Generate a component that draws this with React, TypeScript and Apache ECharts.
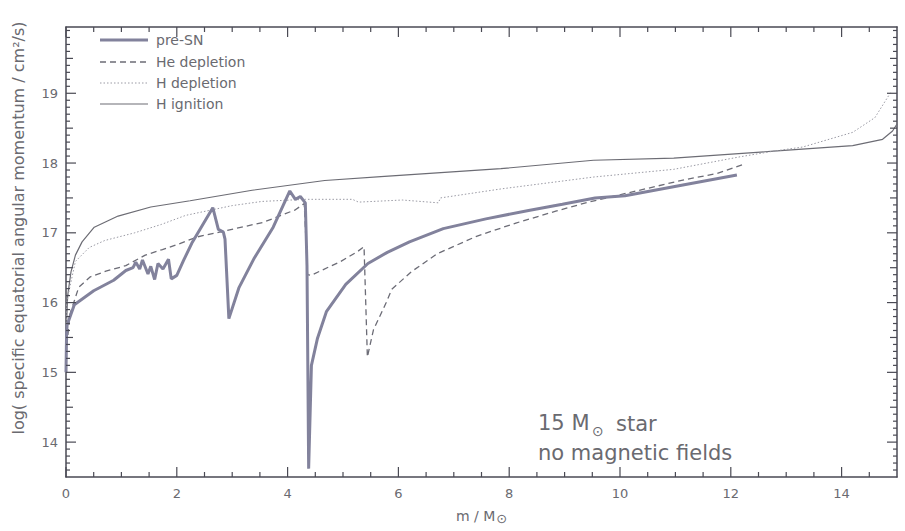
import React, { useEffect, useRef } from "react";
import * as echarts from "echarts";

// ---- data ----
const preSnMass = [0, 0.01, 0.02, 0.15, 0.5, 0.86, 1.08, 1.21, 1.26, 1.33, 1.38, 1.48, 1.53, 1.6, 1.66, 1.75, 1.85, 1.9, 2.0, 2.12, 2.27, 2.65, 2.75, 2.84, 2.87, 2.94, 3.12, 3.4, 3.74, 4.04, 4.14, 4.23, 4.32, 4.35, 4.37, 4.38, 4.43, 4.54, 4.7, 5.05, 5.45, 5.8, 6.2, 6.81, 7.58, 8.35, 8.96, 9.55, 10.09, 11.16, 12.11];
const preSnLogJ = [15.0, 15.54, 15.68, 15.97, 16.17, 16.32, 16.46, 16.5, 16.58, 16.48, 16.61, 16.41, 16.52, 16.33, 16.56, 16.48, 16.62, 16.34, 16.39, 16.6, 16.85, 17.36, 17.05, 17.01, 16.91, 15.77, 16.21, 16.64, 17.08, 17.6, 17.48, 17.52, 17.43, 16.53, 14.6, 13.62, 15.1, 15.49, 15.87, 16.26, 16.56, 16.72, 16.87, 17.06, 17.2, 17.32, 17.41, 17.5, 17.53, 17.69, 17.83];

const heDepMass = [0, 0.07, 0.23, 0.44, 0.72, 1.08, 1.43, 1.74, 2.04, 2.36, 2.77, 3.56, 4.14, 4.3, 4.36, 4.42, 4.96, 5.26, 5.38, 5.44, 5.55, 5.78, 5.88, 6.23, 6.7, 7.41, 8.12, 8.84, 9.43, 11.16, 11.75, 12.23];
const heDepLogJ = [15.25, 15.83, 16.22, 16.37, 16.45, 16.53, 16.68, 16.76, 16.84, 16.94, 17.01, 17.15, 17.33, 17.42, 16.4, 16.39, 16.59, 16.73, 16.8, 15.22, 15.61, 16.0, 16.19, 16.44, 16.7, 16.95, 17.14, 17.31, 17.44, 17.76, 17.85, 17.98];

const hDepMass = [0, 0.01, 0.05, 0.17, 0.42, 0.7, 1.24, 1.72, 2.16, 3.0, 3.54, 4.32, 5.17, 5.28, 6.07, 6.72, 6.76, 7.86, 9.53, 10.97, 12.17, 12.77, 13.3, 14.2, 14.6, 14.75, 14.9];
const hDepLogJ = [15.2, 15.97, 16.15, 16.59, 16.79, 16.89, 17.0, 17.12, 17.25, 17.39, 17.45, 17.48, 17.48, 17.44, 17.47, 17.43, 17.5, 17.63, 17.8, 17.91, 18.09, 18.17, 18.23, 18.44, 18.65, 18.84, 19.03];

const hIgnMass = [0, 0.01, 0.03, 0.09, 0.17, 0.29, 0.51, 0.94, 1.53, 2.24, 3.36, 4.67, 5.75, 7.85, 9.52, 10.97, 12.77, 14.2, 14.74, 14.92, 15.0];
const hIgnLogJ = [15.2, 15.7, 16.1, 16.44, 16.68, 16.87, 17.08, 17.24, 17.37, 17.46, 17.61, 17.75, 17.81, 17.92, 18.04, 18.07, 18.17, 18.25, 18.34, 18.46, 18.56];

const seriesNames = ["pre-SN", "He depletion", "H depletion", "H ignition"];
const xLabelValues = [0, 2, 4, 6, 8, 10, 12, 14];
const yLabelValues = [14, 15, 16, 17, 18, 19];

const zip = (a: number[], b: number[]) => a.map((v, i) => [v, b[i]]);

const FONT = "DejaVu Sans";
const AXIS = "#4a4a54";
const TXT = "#6a6a70";

const STYLES = [
  { color: "#82829c", width: 3, dash: null as number[] | null },
  { color: "#6c6c76", width: 1.3, dash: [6, 4] },
  { color: "#9a9aa4", width: 1, dash: [1.5, 2] },
  { color: "#6c6c74", width: 1.2, dash: null as number[] | null },
];

export default function App() {
  const ref = useRef<HTMLDivElement>(null);
  useEffect(() => {
    if (!ref.current) return;
    document.body.style.margin = "0";
    const chart = echarts.init(ref.current, undefined, { renderer: "svg" });
    const X_MIN = 0, X_MAX = 15, Y_MIN = 13.5, Y_MAX = 19.95;

    const xAxisOf = (pos: string, labels: boolean) => ({
      type: "value", min: X_MIN, max: X_MAX, interval: 2, position: pos,
      splitLine: { show: false },
      axisLine: { show: true, onZero: false, lineStyle: { color: AXIS, width: 1.5 } },
      axisTick: { show: false },
      axisLabel: labels
        ? { show: true, customValues: xLabelValues, color: TXT, fontSize: 13, fontFamily: FONT, margin: 10 }
        : { show: false },
    });
    const yAxisOf = (pos: string, labels: boolean) => ({
      type: "value", min: Y_MIN, max: Y_MAX, interval: 0.5, position: pos,
      splitLine: { show: false },
      axisLine: { show: true, onZero: false, lineStyle: { color: AXIS, width: 1.5 } },
      axisTick: { show: false },
      axisLabel: labels
        ? { show: true, customValues: yLabelValues, color: TXT, fontSize: 13, fontFamily: FONT, margin: 8 }
        : { show: false },
    });
    const xName: any = {
      name: "m / M{sub|⊙}",
      nameLocation: "middle",
      nameGap: 30,
      nameTextStyle: {
        color: TXT, fontSize: 14, fontFamily: FONT,
        rich: { sub: { fontSize: 13, color: TXT, fontFamily: FONT, padding: [5, 0, 0, 1] } },
      },
    };
    const data = [
      zip(preSnMass, preSnLogJ),
      zip(heDepMass, heDepLogJ),
      zip(hDepMass, hDepLogJ),
      zip(hIgnMass, hIgnLogJ),
    ];
    const lineSeries = seriesNames.map((n, i) => ({
      name: n, type: "line", data: data[i],
      showSymbol: false, symbol: "none",
      lineStyle: { color: STYLES[i].color, width: STYLES[i].width, type: STYLES[i].dash || "solid" },
      itemStyle: { color: STYLES[i].color },
    }));
    chart.setOption({
      animation: false,
      grid: { left: 66, right: 8, top: 27, bottom: 54 },
      xAxis: [{ ...xAxisOf("bottom", true), ...xName }, xAxisOf("top", false)],
      yAxis: [yAxisOf("left", true), yAxisOf("right", false)],
      series: lineSeries.slice().reverse(),
    });

    // ---- tick marks on all four sides, positioned through the chart's own scales ----
    const toPx = (x: number, y: number) =>
      chart.convertToPixel({ gridIndex: 0 } as any, [x, y]) as number[];
    const ticks: any[] = [];
    const tickLine = (x1: number, y1: number, x2: number, y2: number) => ({
      type: "line", silent: true, z: 10,
      shape: { x1, y1, x2, y2 },
      style: { stroke: AXIS, lineWidth: 1.2 },
    });
    for (let k = 0; k <= 29; k++) {
      const v = k / 2;
      const len = k % 4 === 0 ? 10 : 5;
      const b = toPx(v, Y_MIN);
      const t = toPx(v, Y_MAX);
      if (b && t) {
        ticks.push(tickLine(b[0], b[1], b[0], b[1] - len));
        ticks.push(tickLine(t[0], t[1], t[0], t[1] + len));
      }
    }
    for (let k = 136; k <= 199; k++) {
      const v = k / 10;
      const len = k % 10 === 0 ? 10 : k % 5 === 0 ? 7 : 4;
      const l = toPx(X_MIN, v);
      const r = toPx(X_MAX, v);
      if (l && r) {
        ticks.push(tickLine(l[0], l[1], l[0] + len, l[1]));
        ticks.push(tickLine(r[0], r[1], r[0] - len, r[1]));
      }
    }

    const legendRows = [40, 62, 83, 104];
    const legendGraphics: any[] = [];
    seriesNames.forEach((n, i) => {
      const s = STYLES[i];
      legendGraphics.push({
        type: "line", shape: { x1: 100, y1: legendRows[i], x2: 148, y2: legendRows[i] },
        style: { stroke: s.color, lineWidth: s.width, lineDash: s.dash || undefined },
      });
      legendGraphics.push({
        type: "text", x: 156, y: legendRows[i],
        style: { text: n, fill: TXT, font: `14px "${FONT}"`, verticalAlign: "middle", align: "left" },
      });
    });

    chart.setOption({
      graphic: [
        {
          type: "text", x: 18, y: 228, rotation: Math.PI / 2,
          style: {
            text: "log( specific equatorial angular momentum / cm²/s)",
            fill: TXT, font: `16px "${FONT}"`, align: "center", verticalAlign: "middle",
          },
        },
        {
          type: "text", x: 538, y: 423,
          style: { text: "15 M", fill: TXT, font: `21px "${FONT}"`, verticalAlign: "middle", align: "left" },
        },
        {
          type: "text", x: 592, y: 431,
          style: { text: "⊙", fill: TXT, font: `14px "${FONT}"`, verticalAlign: "middle", align: "left" },
        },
        {
          type: "text", x: 616, y: 424,
          style: { text: "star", fill: TXT, font: `21px "${FONT}"`, verticalAlign: "middle", align: "left" },
        },
        {
          type: "text", x: 538, y: 453,
          style: { text: "no magnetic fields", fill: TXT, font: `21px "${FONT}"`, verticalAlign: "middle", align: "left" },
        },
        ...legendGraphics,
        ...ticks,
      ],
    });
    return () => chart.dispose();
  }, []);
  return <div ref={ref} style={{ width: 905, height: 531 }} />;
}
